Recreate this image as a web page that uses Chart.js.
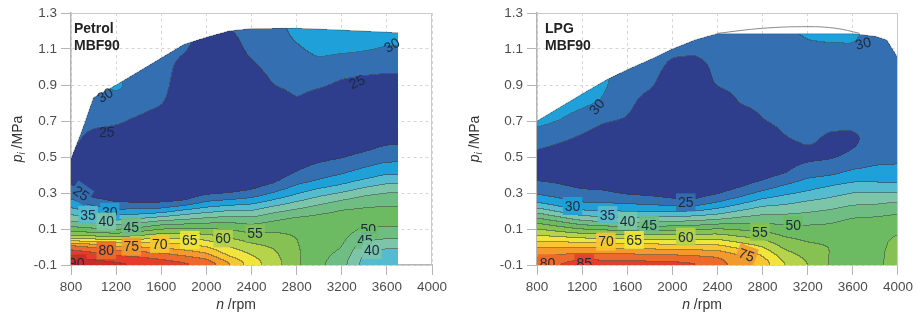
<!DOCTYPE html>
<html>
<head>
<meta charset="utf-8">
<script src="https://cdn.jsdelivr.net/npm/chart.js@4.4.1/dist/chart.umd.min.js"></script>
<style>
html, body { margin: 0; padding: 0; background: #fff; }
.wrap { position: absolute; top: 0; height: 316px; }
#w1 { left: 0; width: 458px; }
#w2 { left: 458px; width: 459px; }
</style>
</head>
<body>
<div class="wrap" id="w1"><canvas id="c1" width="458" height="316"></canvas></div>
<div class="wrap" id="w2"><canvas id="c2" width="459" height="316"></canvas></div>
<script>
// contour levels and band colours (below 25, 25-30, ... , above 90)
const levels = [25, 30, 35, 40, 45, 50, 55, 60, 65, 70, 75, 80, 85, 90];
const bandColors = ['#2e3d8c', '#346fb1', '#20a0d8', '#55bccf', '#7cc5a9', '#6fbd82', '#6cbb62',
    '#86c253', '#b5d34b', '#f1e43b', '#f8c630', '#f29a2e', '#ec6a2c', '#e23e2b', '#cc2a28'];

const xTicks = [800, 1200, 1600, 2000, 2400, 2800, 3200, 3600, 4000];
const yTicks = [-0.1, 0.1, 0.3, 0.5, 0.7, 0.9, 1.1, 1.3];

// grid nodes of the maps
const gridX = [800, 1000, 1200, 1400, 1600, 1800, 2000, 2200, 2400, 2600, 2800, 3000, 3200, 3400, 3600, 3800, 4000];
const gridY = [-0.1, -0.05, 0, 0.05, 0.1, 0.15, 0.2, 0.25, 0.3, 0.35, 0.4, 0.5, 0.6, 0.7, 0.8, 0.9, 1.0, 1.1, 1.2, 1.3];

// Petrol MBF90 map, one row per gridY value
const petrolZ = [
    [93, 92.5, 92, 90.5, 88.5, 87, 85, 77, 68, 62.5, 56, 51, 47, 38, 37, 37, 37],
    [89, 88, 85.6, 84.2, 82.5, 80, 77, 69.5, 65.5, 61.5, 56, 51.5, 48.5, 39, 38, 38, 38],
    [83.3, 80, 76.4, 75, 73.6, 72, 70, 65, 61.6, 59.5, 55.5, 52, 50.3, 41.5, 40.5, 40.5, 40.5],
    [62.5, 61.7, 60.7, 62.5, 64.6, 64.2, 62.9, 60, 57.3, 56.8, 55, 52.5, 51.5, 46, 46, 46, 46],
    [51.7, 50, 48.5, 51, 54.5, 55, 55, 54.4, 52.6, 53.7, 54, 52.5, 52.5, 49.5, 49.5, 49.5, 49.5],
    [43.7, 41.4, 39.7, 41, 43.7, 45, 46.7, 47.9, 46.9, 49.4, 51.5, 52, 52, 51.5, 51.5, 51.5, 51.5],
    [37.1, 33.3, 30.9, 31, 32, 36, 38, 40, 40, 43.6, 46, 48.5, 50.5, 51, 51.2, 51.2, 51.2],
    [31.1, 27, 24.5, 24, 24, 25, 30, 31.4, 32.9, 36.4, 40, 43.1, 46, 48, 48.8, 48.8, 48.8],
    [27.8, 22.5, 21.5, 21.5, 21, 21.5, 23.5, 24.5, 26.2, 30, 34, 37.7, 40, 43.3, 45, 45, 45],
    [25, 21, 21, 21, 21, 21, 21, 21.5, 22.5, 25, 29.3, 31.8, 34.5, 37.5, 40, 40, 40],
    [22, 21, 21, 21, 21, 21, 21, 21, 21, 22.5, 25.7, 28.1, 30, 32.5, 35, 35, 35],
    [24.5, 21, 21, 21, 21, 21, 21, 21, 21, 21, 22, 23.5, 24.5, 26.1, 27.8, 27.8, 27.8],
    [27, 22.5, 22, 21, 21, 21, 21, 21, 21, 21, 21, 21, 21.5, 22, 23.5, 23.5, 23.5],
    [28, 27, 26, 24, 22, 21, 21, 21, 21, 21, 21.5, 21, 21, 21, 21.5, 21.5, 21.5],
    [28.5, 28.5, 28.5, 27.5, 25.5, 21, 21, 21, 21, 21.5, 24.5, 22, 21.5, 21, 21, 21, 21],
    [29, 29, 31, 28.5, 27.5, 21, 21, 21, 21, 25.2, 26.5, 25.8, 24, 23, 22.5, 22.5, 22.5],
    [29, 29, 29, 29, 28.5, 22, 21, 21, 24, 27, 28, 29, 27.5, 27, 26.5, 26.5, 26.5],
    [29, 29, 29, 29, 29, 26, 21, 22, 26.5, 28, 29.5, 31, 31, 30.5, 29.7, 29.7, 29.7],
    [29, 29, 29, 29, 29, 28, 23, 24.5, 27.5, 28.5, 31, 32.5, 32.5, 32.5, 31.5, 31.5, 31.5],
    [29, 29, 29, 29, 29, 29, 25, 26, 28, 29, 31.5, 33, 33, 33, 32, 32, 32]
];
const petrolEnvX = [800, 900, 1000, 1200, 1400, 1600, 1800, 2000, 2200, 2400, 2800, 3200, 3700];
const petrolEnvY = [0.49, 0.65, 0.83, 0.90, 0.975, 1.05, 1.125, 1.165, 1.20, 1.213, 1.215, 1.205, 1.19];
const petrolLabels = [
    [891, 0.298, '25', 35], [1143, 0.196, '30', 0], [951, 0.178, '35', 0], [1113, 0.141, '40', 0],
    [1335, 0.113, '45', 0], [2432, 0.076, '55', 0], [2148, 0.048, '60', 0], [1853, 0.039, '65', 0],
    [1587, 0.017, '70', 0], [1335, 0.002, '75', 0], [1113, -0.017, '80', 0], [850, -0.092, '90', 0],
    [3436, 0.10, '50', 0], [3407, 0.039, '45', 0], [3467, -0.017, '40', 0],
    [1117, 0.64, '25', 0], [1102, 0.844, '30', -30], [3334, 0.918, '25', -25], [3644, 1.122, '30', -30]
];

// LPG MBF90 map
const lpgZ = [
    [82, 86, 88.5, 88, 88, 87.5, 87.5, 86.5, 83, 78, 73.5, 65.5, 60.5, 54.5, 52.5, 54, 56.5],
    [79.2, 80.6, 82.3, 81.9, 81.7, 81.2, 80.8, 80, 79.5, 75.6, 70, 62.5, 58.5, 54.8, 53, 54, 56.5],
    [75, 75, 74.2, 73.7, 73.3, 72.8, 72.5, 72.1, 71.7, 68.3, 65, 58.7, 56.3, 55, 53.5, 54, 56],
    [66.7, 65.9, 64.6, 64.2, 63.9, 63.3, 63, 63.2, 63.4, 60.8, 58.9, 55.3, 53.75, 53.5, 53.5, 54, 55.5],
    [60, 57.3, 54.6, 53.4, 52, 52.4, 53, 53.6, 55, 53.9, 53.1, 51.7, 51.2, 51.3, 52.5, 53, 54],
    [51.7, 48, 43.75, 42.2, 41, 41.9, 42.8, 43.6, 45, 46.9, 47.7, 47.6, 48, 48.9, 50.7, 51, 52],
    [42.7, 38.4, 35, 34.75, 34.4, 34.3, 34.2, 34.6, 36.7, 40, 42.8, 43.2, 44.2, 45.4, 47.1, 47.7, 48.6],
    [34, 31.3, 29.4, 29.2, 28.6, 27.8, 26.4, 25.8, 29.4, 33.1, 36.9, 38.5, 40.4, 41.8, 43.6, 43.8, 45],
    [29, 27.8, 26.5, 25.7, 24, 23.5, 22.5, 22.5, 24, 27.2, 31.1, 33.75, 35.7, 37.9, 40, 40, 39.8],
    [26.5, 25, 23, 23, 22, 21.5, 21.5, 21.5, 22, 23.5, 26, 29.5, 32.1, 34, 35.7, 35.5, 35.2],
    [22, 22, 21.5, 21.5, 21.5, 21.5, 21.5, 21.5, 21.5, 22, 23.5, 25, 28.6, 29.4, 31.7, 32.2, 32.2],
    [23.5, 22, 21.5, 21.5, 21.5, 21.5, 21.5, 21.5, 21.5, 21.5, 21.5, 22.5, 23.5, 24.2, 25.8, 28, 28.5],
    [27.5, 26, 24, 21.5, 21.5, 21.5, 21.5, 21.5, 21.5, 21.5, 21.5, 24.7, 26, 24, 23.8, 27, 27.5],
    [31.5, 30, 28, 25.5, 24.5, 21.5, 21.5, 21.5, 21.5, 21.5, 24.8, 26.5, 27.5, 26.5, 26.5, 27.5, 27.5],
    [32, 32, 31, 29.5, 26.5, 22.5, 21.5, 21.5, 21.5, 25.3, 26.5, 27.5, 28, 27.5, 27.5, 28, 28],
    [32, 32, 32, 30.5, 27.5, 26, 21.5, 21.5, 25.5, 26.5, 27.5, 28, 28.5, 28, 28, 28.5, 28.5],
    [32, 32, 32, 31, 28, 27.5, 23.5, 22.5, 26.5, 27.5, 28, 28.5, 29, 28.5, 28.5, 29, 29],
    [32, 32, 32, 31, 28.5, 28, 26.5, 26.5, 27.5, 28, 28.5, 29, 29.5, 29.5, 29.6, 28.5, 28.5],
    [32, 32, 32, 31, 29, 28.5, 27.5, 27.5, 28, 28, 29, 29.5, 30.5, 31, 31, 28.5, 28.5],
    [32, 32, 32, 31, 29, 28.5, 27.5, 27.5, 28, 28, 29, 29.5, 30.5, 31, 31, 28.5, 28.5]
];
const lpgEnvX = [800, 1000, 1200, 1420, 1600, 1800, 2000, 2200, 2400, 3600, 3800, 3900, 4000];
const lpgEnvY = [0.70, 0.775, 0.85, 0.93, 0.985, 1.04, 1.10, 1.15, 1.185, 1.185, 1.17, 1.15, 1.05];
const lpgRefX = [2400, 2800, 3200, 3450, 3660];
const lpgRefY = [1.187, 1.215, 1.224, 1.215, 1.187];
const lpgLabels = [
    [1115, 0.228, '30', 0], [1425, 0.178, '35', 0], [1602, 0.146, '40', 0], [1794, 0.122, '45', 0],
    [2119, 0.248, '25', 0], [2119, 0.057, '60', 0], [1661, 0.039, '65', 0], [1411, 0.03, '70', 0],
    [2658, -0.044, '75', 20], [2776, 0.085, '55', 0], [3071, 0.122, '50', 0],
    [894, -0.09, '80', 0], [1219, -0.09, '85', 0], [1331, 0.78, '30', -50], [3691, 1.132, '30', -15]
];

Chart.defaults.font.family = '"Liberation Sans", Arial, sans-serif';

function hexRgb(h) {
    return [parseInt(h.slice(1, 3), 16), parseInt(h.slice(3, 5), 16), parseInt(h.slice(5, 7), 16)];
}
const bandRgb = bandColors.map(hexRgb);

function envAt(ex, ey, x) {
    for (let k = 0; k < ex.length - 1; k++) {
        if (x <= ex[k + 1]) {
            const t = (x - ex[k]) / (ex[k + 1] - ex[k]);
            return ey[k] + t * (ey[k + 1] - ey[k]);
        }
    }
    return ey[ey.length - 1];
}

function zAt(Z, x, y) {
    let i = 0;
    while (i < gridX.length - 2 && x > gridX[i + 1]) i++;
    let j = 0;
    while (j < gridY.length - 2 && y > gridY[j + 1]) j++;
    const tx = Math.min(1, Math.max(0, (x - gridX[i]) / (gridX[i + 1] - gridX[i])));
    const ty = Math.min(1, Math.max(0, (y - gridY[j]) / (gridY[j + 1] - gridY[j])));
    return Z[j][i] * (1 - tx) * (1 - ty) + Z[j][i + 1] * tx * (1 - ty)
        + Z[j + 1][i] * (1 - tx) * ty + Z[j + 1][i + 1] * tx * ty;
}

function bandOf(z) {
    let b = 0;
    while (b < levels.length && z >= levels[b]) b++;
    return b;
}

// box blur along rows and columns, softens the kinks of the bilinear map
function blur(f, w, h, r) {
    const tmp = new Float32Array(w * h);
    for (let j = 0; j < h; j++) {
        for (let i = 0; i < w; i++) {
            let s = 0, n = 0;
            for (let d = -r; d <= r; d++) {
                const ii = Math.min(w - 1, Math.max(0, i + d));
                s += f[j * w + ii]; n++;
            }
            tmp[j * w + i] = s / n;
        }
    }
    for (let j = 0; j < h; j++) {
        for (let i = 0; i < w; i++) {
            let s = 0, n = 0;
            for (let d = -r; d <= r; d++) {
                const jj = Math.min(h - 1, Math.max(0, j + d));
                s += tmp[jj * w + i]; n++;
            }
            f[j * w + i] = s / n;
        }
    }
}

// filled contour map, painted under the datasets
const contourPlugin = {
    id: 'contour',
    beforeDatasetsDraw(chart, args, o) {
        const { ctx, chartArea: a } = chart;
        const sx = chart.scales.x, sy = chart.scales.y;
        const x0 = Math.round(a.left), y0 = Math.round(a.top);
        const w = Math.round(a.right) - x0, h = Math.round(a.bottom) - y0;
        const field = new Float32Array(w * h);
        const inside = new Uint8Array(w * h);
        const xEnd = o.envX[o.envX.length - 1];

        for (let j = 0; j < h; j++) {
            const yv = sy.getValueForPixel(y0 + j + 0.5);
            for (let i = 0; i < w; i++) {
                const xv = sx.getValueForPixel(x0 + i + 0.5);
                field[j * w + i] = zAt(o.z, xv, yv);
                if (xv < o.envX[0] || xv > xEnd || yv < -0.1) continue;
                if (yv > envAt(o.envX, o.envY, xv)) continue;
                inside[j * w + i] = 1;
            }
        }
        blur(field, w, h, 3);
        blur(field, w, h, 3);

        const band = new Int16Array(w * h).fill(-1);
        for (let k = 0; k < w * h; k++) if (inside[k]) band[k] = bandOf(field[k]);

        const off = document.createElement('canvas');
        off.width = w; off.height = h;
        const octx = off.getContext('2d');
        const img = octx.createImageData(w, h);
        for (let j = 0; j < h; j++) {
            for (let i = 0; i < w; i++) {
                const k = j * w + i;
                const b = band[k];
                if (b < 0) continue;
                let [r, g, bl] = bandRgb[b];
                const edge = (i + 1 < w && band[k + 1] >= 0 && band[k + 1] !== b) ||
                    (j + 1 < h && band[k + w] >= 0 && band[k + w] !== b);
                if (edge) {
                    r = r * 0.5 + 30; g = g * 0.5 + 30; bl = bl * 0.5 + 30;
                }
                img.data[k * 4] = r;
                img.data[k * 4 + 1] = g;
                img.data[k * 4 + 2] = bl;
                img.data[k * 4 + 3] = 255;
            }
        }
        octx.putImageData(img, 0, 0);
        ctx.drawImage(off, x0, y0);
    },
    afterDatasetsDraw(chart, args, o) {
        const { ctx, chartArea: a } = chart;
        const sx = chart.scales.x, sy = chart.scales.y;
        ctx.save();
        ctx.beginPath();
        ctx.rect(a.left, a.top, a.right - a.left, a.bottom - a.top);
        ctx.clip();
        ctx.font = '14px "Liberation Sans", Arial, sans-serif';
        ctx.textAlign = 'center';
        ctx.textBaseline = 'middle';
        o.labels.forEach(([x, y, t, ang]) => {
            const px = sx.getPixelForValue(x), py = sy.getPixelForValue(y);
            ctx.save();
            ctx.translate(px, py);
            ctx.rotate(ang * Math.PI / 180);
            if (y < 0.4) {
                const tw = ctx.measureText(t).width;
                ctx.globalAlpha = 0.9;
                ctx.fillStyle = bandColors[levels.indexOf(+t) + 1];
                ctx.fillRect(-tw / 2 - 2, -9, tw + 4, 18);
                ctx.globalAlpha = 1;
            }
            ctx.fillStyle = '#1c2a3c';
            ctx.fillText(t, 0, 1);
            ctx.restore();
        });
        ctx.restore();
    },
    afterDraw(chart, args, o) {
        const { ctx, chartArea: a } = chart;
        ctx.save();
        // frame on top and right
        ctx.strokeStyle = '#cacaca';
        ctx.lineWidth = 1;
        ctx.beginPath();
        ctx.moveTo(a.left, a.top + 0.5);
        ctx.lineTo(a.right - 0.5, a.top + 0.5);
        ctx.lineTo(a.right - 0.5, a.bottom);
        ctx.stroke();

        // panel title
        ctx.fillStyle = '#222';
        ctx.font = 'bold 14px "Liberation Sans", Arial, sans-serif';
        ctx.textAlign = 'left';
        ctx.textBaseline = 'alphabetic';
        o.title.forEach((t, k) => ctx.fillText(t, a.left + o.titleDx, a.top + 20 + k * 17));

        // x axis title: n /rpm
        ctx.fillStyle = '#333';
        const fIt = 'italic 14px "Liberation Sans", Arial, sans-serif';
        const fUp = '14px "Liberation Sans", Arial, sans-serif';
        const fSub = 'italic 10px "Liberation Sans", Arial, sans-serif';
        ctx.font = fIt;
        const wn = ctx.measureText('n').width;
        ctx.font = fUp;
        const wr = ctx.measureText(' /rpm').width;
        const sx0 = a.left + 165 - (wn + wr) / 2;
        ctx.font = fIt; ctx.fillText('n', sx0, 309);
        ctx.font = fUp; ctx.fillText(' /rpm', sx0 + wn, 309);

        // y axis title: p_i /MPa
        ctx.translate(o.yTitleX, (a.top + a.bottom) / 2);
        ctx.rotate(-Math.PI / 2);
        ctx.textBaseline = 'middle';
        ctx.font = fIt;
        const wp = ctx.measureText('p').width;
        ctx.font = fSub;
        const wi = ctx.measureText('i').width;
        ctx.font = fUp;
        const wm = ctx.measureText(' /MPa').width;
        const s = -(wp + wi + wm) / 2;
        ctx.font = fIt; ctx.fillText('p', s, 0);
        ctx.font = fSub; ctx.fillText('i', s + wp, 4);
        ctx.font = fUp; ctx.fillText(' /MPa', s + wp + wi, 0);
        ctx.restore();
    }
};

function makeChart(id, cfg) {
    const datasets = [{
        data: cfg.envX.map((x, k) => ({ x, y: cfg.envY[k] })),
        showLine: true,
        borderColor: 'rgba(60,60,60,0.55)',
        borderWidth: 0.8,
        pointRadius: 0
    }];
    if (cfg.refX) {
        datasets.push({
            data: cfg.refX.map((x, k) => ({ x, y: cfg.refY[k] })),
            showLine: true,
            tension: 0.4,
            borderColor: '#8a8a8a',
            borderWidth: 1,
            pointRadius: 0
        });
    }
    const tickFont = { size: 13.5 };
    return new Chart(document.getElementById(id), {
        type: 'scatter',
        data: { datasets },
        plugins: [contourPlugin],
        options: {
            responsive: false,
            animation: false,
            layout: { padding: { top: 13, right: cfg.padRight, bottom: 0, left: 0 } },
            plugins: {
                legend: { display: false },
                tooltip: { enabled: false },
                contour: {
                    z: cfg.z, envX: cfg.envX, envY: cfg.envY, labels: cfg.labels,
                    title: cfg.title, titleDx: cfg.titleDx, yTitleX: cfg.yTitleX
                }
            },
            scales: {
                x: {
                    type: 'linear', min: 800, max: 4000,
                    afterBuildTicks: sc => { sc.ticks = xTicks.map(v => ({ value: v })); },
                    afterFit: sc => { sc.height = 51; },
                    ticks: { color: '#4d4d4d', font: tickFont, padding: 4, maxRotation: 0, callback: v => String(v) },
                    grid: { color: '#d6d6d6', tickColor: '#b5b5b5', tickLength: 10, tickBorderDash: [] },
                    border: { color: '#b5b5b5', width: 1.5, dash: [3, 3] }
                },
                y: {
                    type: 'linear', min: -0.1, max: 1.3,
                    afterBuildTicks: sc => { sc.ticks = yTicks.map(v => ({ value: v })); },
                    afterFit: sc => { sc.width = cfg.yWidth; },
                    ticks: { color: '#4d4d4d', font: tickFont, padding: 4, callback: v => v.toFixed(1) },
                    grid: { color: '#d6d6d6', tickColor: '#b5b5b5', tickLength: 10, tickBorderDash: [] },
                    border: { color: '#b5b5b5', width: 1.5, dash: [3, 3] }
                }
            }
        }
    });
}

makeChart('c1', {
    z: petrolZ, envX: petrolEnvX, envY: petrolEnvY, labels: petrolLabels,
    title: ['Petrol', 'MBF90'], titleDx: 3, yTitleX: 18, yWidth: 71, padRight: 26
});
makeChart('c2', {
    z: lpgZ, envX: lpgEnvX, envY: lpgEnvY, refX: lpgRefX, refY: lpgRefY, labels: lpgLabels,
    title: ['LPG', 'MBF90'], titleDx: 8, yTitleX: 17, yWidth: 79, padRight: 19
});
</script>
</body>
</html>
